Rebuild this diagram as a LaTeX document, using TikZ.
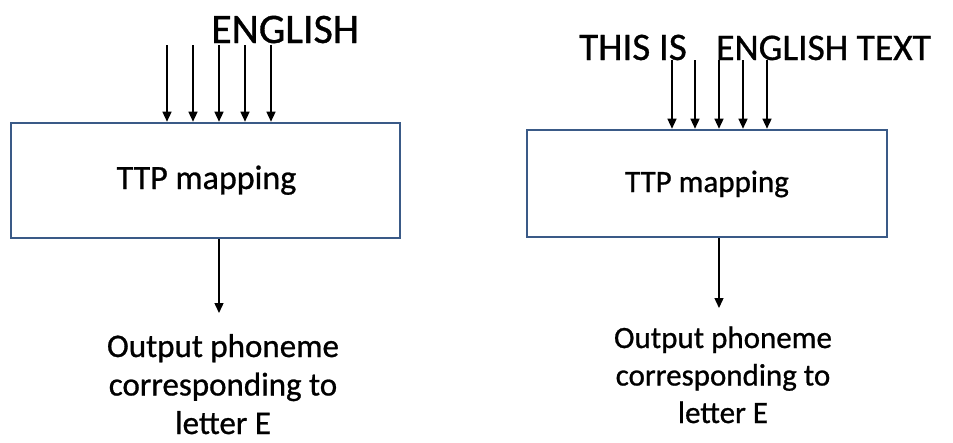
\documentclass[tikz,border=0pt]{standalone}
\usepackage{fontspec}
\setmainfont{Carlito}[FakeBold=0.8]
\usetikzlibrary{arrows.meta}
\definecolor{boxline}{RGB}{58,90,135}
\tikzset{
  mapbox/.style={draw=boxline, line width=2.6pt, inner sep=0pt, fill=white},
  feed/.style={line width=1.4pt, -{Triangle[length=10pt,width=9pt]}},
  bigcaps/.style={inner sep=0pt, anchor=base west},
  boxlabel/.style={inner sep=0pt, anchor=base},
  outlabel/.style={align=center, inner sep=0pt, anchor=base},
}
\begin{document}
\begin{tikzpicture}[x=1pt, y=-1pt]
  \useasboundingbox (0,0) rectangle (953,442);

  % ---- left: single word ----
  \node[mapbox, minimum width=389pt, minimum height=115pt] (lbox) at (205.5,180.5) {};
  \node[boxlabel, font=\fontsize{34}{40}\selectfont] (lmap) at (206.5,189) {TTP mapping};
  \node[bigcaps, font=\fontsize{42}{48}\selectfont] (lword) at (211,43) {ENGLISH};
  \foreach \i/\x in {1/167,2/193,3/219,4/245,5/271} {
    \coordinate (lin\i) at (\x,45);
    \draw[feed] (lin\i) -- (lin\i |- lbox.north);
  }
  \coordinate (lout) at (219,313);
  \draw[feed] (lout |- lbox.south) -- (lout);
  % base anchor sits on the last line
  \node[outlabel, font=\fontsize{33}{38.5}\selectfont]
    (ltext) at (223,434) {Output phoneme\\corresponding to\\letter E};

  % ---- right: whole sentence ----
  \node[mapbox, minimum width=360pt, minimum height=107pt] (rbox) at (707,183.5) {};
  \node[boxlabel, font=\fontsize{31}{37}\selectfont] (rmap) at (707,192) {TTP mapping};
  \node[bigcaps, font=\fontsize{39}{46}\selectfont] (rwordA) at (579,60) {THIS IS};
  \node[bigcaps, font=\fontsize{37.5}{45}\selectfont] (rwordB) at (716,60) {ENGLISH TEXT};
  \foreach \i/\x in {1/672,2/695,3/719,4/743,5/767} {
    \coordinate (rin\i) at (\x,60);
    \draw[feed] (rin\i) -- (rin\i |- rbox.north);
  }
  \coordinate (rout) at (719,308);
  \draw[feed] (rout |- rbox.south) -- (rout);
  \node[outlabel, font=\fontsize{31}{37.5}\selectfont]
    (rtext) at (723,423) {Output phoneme\\corresponding to\\letter E};
\end{tikzpicture}
\end{document}
